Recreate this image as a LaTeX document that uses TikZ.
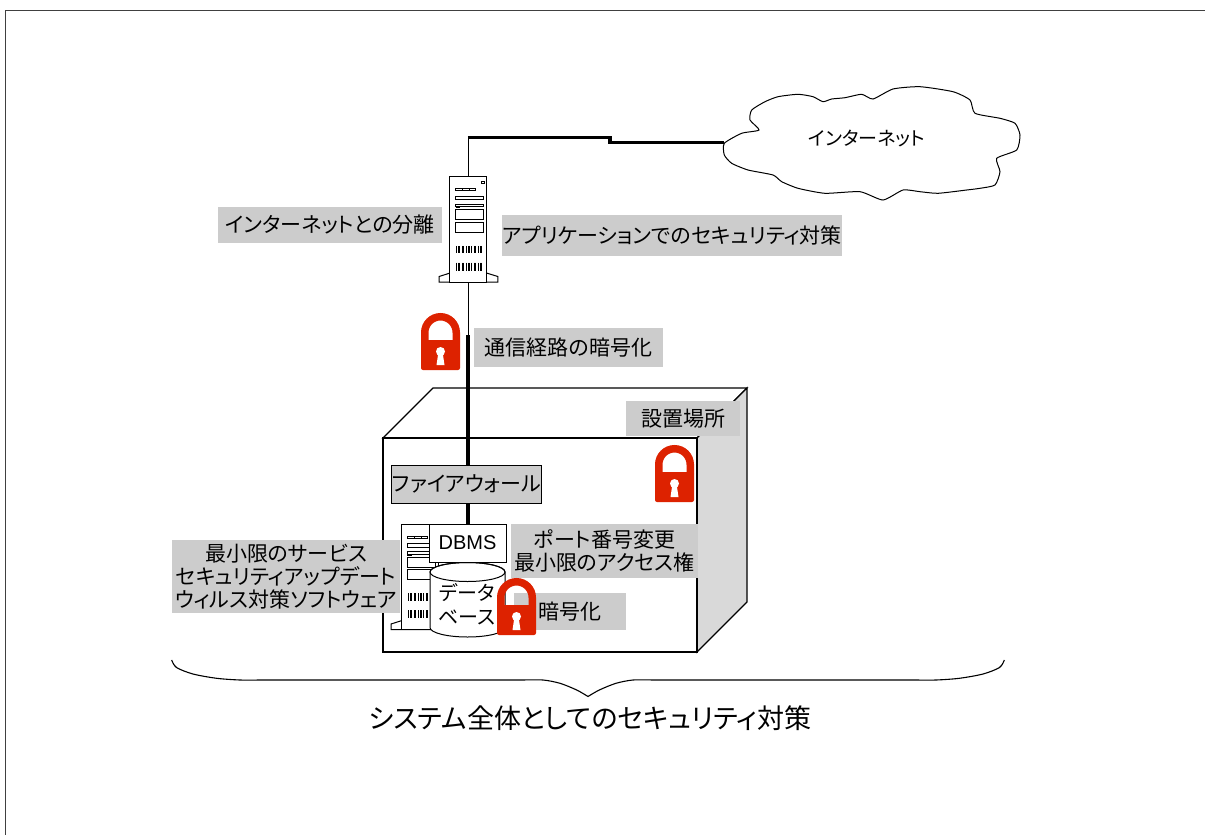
\documentclass[tikz,border=0pt]{standalone}
\usepackage{fontspec}
\setmainfont{Liberation Sans}
\newfontfamily\jp{Noto Sans CJK JP}[RawFeature=+palt]

\definecolor{labelgray}{HTML}{CCCCCC}
\definecolor{sidegray}{HTML}{D9D9D9}
\definecolor{lockred}{HTML}{DD2200}
\definecolor{framegray}{HTML}{404040}

\tikzset{
  lbl/.style={fill=labelgray, inner sep=0, align=center,
    font=\jp\fontsize{21}{23}\selectfont},
  pipe/.style={line width=3.3pt},
  wire/.style={line width=1.4pt},
  lockpic/.pic={
    \draw[lockred, line width=7.5pt] (3.75,29) -- (3.75,19.5)
      arc[start angle=180, end angle=360, radius=15.75] -- (35.25,29);
    \fill[lockred, rounded corners=2pt] (0,27) rectangle (39,57);
    \fill[white] (19.5,38.5) circle (4.5);
    \fill[white] (17.3,40) -- (15.5,52) -- (23.5,52) -- (21.7,40) -- cycle;
  },
  serverpic/.pic={
    \filldraw[fill=white, line width=1pt] (0,96.6) -- (-10.7,100) -- (-10.7,105.6)
      -- (48,105.6) -- (48,100) -- (37,96.6) -- cycle;
    \filldraw[fill=white, line width=1pt] (0,0) rectangle (37,105.6);
    \draw[line width=0.8pt] (31.7,5) rectangle (35,7.3);
    \draw[line width=0.8pt] (6,12) rectangle (25.7,14.3)
      (12.6,12) -- (12.6,14.3) (19.2,12) -- (19.2,14.3);
    \draw[line width=0.8pt] (5.7,19.6) rectangle (33.7,23.3);
    \draw[line width=0.8pt] (5.7,27.6) rectangle (33.7,30) (5.7,31.3) -- (10,31.3);
    \draw[line width=0.8pt] (5.7,33.3) rectangle (33.7,43.3);
    \draw[line width=0.8pt] (5.7,45.6) rectangle (33.7,55.6);
    \foreach \bx in {7,8.5,10,12.5,14,17,18.5,20,21.5,24.5,26,29,30.5,32}{
      \draw[line width=0.7pt] (\bx,69.3) -- (\bx,76.6) (\bx,86) -- (\bx,94);
    }
  }
}

\begin{document}
\begin{tikzpicture}[x=1pt, y=-1pt]
\useasboundingbox (0,0) rectangle (1205,835);

% outer frame
\draw[framegray, line width=1.3pt] (5.5,835) -- (5.5,10.5) -- (1205,10.5);

% the internet cloud
\filldraw[fill=white, line width=1pt] plot[smooth cycle, tension=0.35] coordinates {
  (724.3,143.3) (741.7,133.3) (759,130) (750,120) (751.7,110) (765,101.7)
  (778,96.7) (798,94.3) (813,96.7) (823,101.7) (831.7,99) (845,97.7)
  (861.7,94.3) (873,99) (893,89) (920,86.7) (953,91.7) (970,100)
  (975,113.3) (1000,118.3) (1015,123.3) (1020,135) (1016.7,150)
  (996.7,158.3) (1000,171.7) (995,185) (980,188.3) (966.7,190)
  (938,193.3) (920,191.7) (903,190) (883,200) (860,191.7) (825,193.3)
  (798,188.3) (781.7,181.7) (773,175) (748,170) (731.7,163.3) (724.3,155)};
\node[font=\jp\fontsize{19}{22}\selectfont] (inet) at (867,138) {インターネット};
\coordinate (cloudW) at (724.3,142.5);

% web server
\node[inner sep=0, minimum width=37, minimum height=105.6] (srvA) at (468.5,229.5) {};
\pic at (srvA.north west) {serverpic};

% the building housing the database server
\filldraw[fill=white, line width=1.2pt] (383,438) -- (433,388) -- (747,388) -- (697,438) -- cycle;
\filldraw[fill=sidegray, line width=1.2pt] (697,438) -- (747,388) -- (747,602) -- (697,652) -- cycle;
\filldraw[fill=white, line width=1.2pt] (383,438) rectangle (697,652);

% labels around the web server
\node[lbl, minimum width=224, minimum height=36] (sep) at (330,225) {インターネットとの分離};
\node[lbl, minimum width=332, minimum height=41] (appsec) at (672,235.5) {アプリケーションでのセキュリティ対策};
\node[lbl, minimum width=189, minimum height=39] (enc) at (568.5,347.5) {通信経路の暗号化};
\node[lbl, minimum width=114, minimum height=35] (site) at (683,418.5) {設置場所};

% firewall
\node[lbl, draw=black, line width=1pt, minimum width=150, minimum height=38] (fw) at (466.7,484) {ファイアウォール};

% database server and DBMS
\pic at (401.7,524) {serverpic};
\node[draw, fill=white, line width=1pt, inner sep=0, minimum width=77, minimum height=38,
  font=\fontsize{20}{24}\selectfont] (dbms) at (467.5,543) {DBMS};
\filldraw[fill=white, line width=1pt] (430,572) -- (430,627.5)
  arc[start angle=180, end angle=0, x radius=37.5, y radius=9.5] -- (505,572)
  arc[start angle=0, end angle=-180, x radius=37.5, y radius=9.5] -- cycle;
\draw[line width=1pt] (467.5,572) ellipse [x radius=37.5, y radius=9.5];
\node[font=\jp\fontsize{20}{24}\selectfont, align=center] (db) at (467,604) {データ\\ベース};

% connections
\coordinate (bendA) at (468.5,137.3);
\coordinate (stepA) at (610,137.3);
\coordinate (thinEnd) at (468,335);
\draw[wire] (srvA.north) -- (bendA);
\draw[pipe] ([xshift=-0.7pt]bendA) -- (stepA) |- (cloudW);
\draw[wire] (srvA.south) -- (srvA.south |- thinEnd);
\draw[pipe] (thinEnd) -- (thinEnd |- fw.north);
\draw[pipe] (thinEnd |- fw.south) -- (thinEnd |- dbms.north);

% remaining labels
\node[lbl, minimum width=187, minimum height=54] (port) at (604.5,551) {ポート番号変更\\最小限のアクセス権};
\node[lbl, minimum width=228, minimum height=73] (os) at (286,576.5) {最小限のサービス\\セキュリティアップデート\\ウィルス対策ソフトウェア};
\node[lbl, minimum width=112, minimum height=37] (dbenc) at (570,611.5) {暗号化};

% padlocks
\pic at (421,313) {lockpic};
\pic at (655,445) {lockpic};
\pic at (497,578) {lockpic};

% brace over the whole system
\draw[line width=1.1pt] plot[smooth, tension=0.5] coordinates {(171.7,660) (176.5,667.5) (193,674) (216.7,678.3) (240,680) (260,680)}
  -- plot[smooth, tension=0.5] coordinates {(523,680) (543,680) (560,683.3) (576.7,690) (588,696.5)}
  -- plot[smooth, tension=0.5] coordinates {(588,696.5) (599.3,690) (616,683.3) (633,680) (653,680)}
  -- plot[smooth, tension=0.5] coordinates {(916,680) (936,680) (959.3,678.3) (983,674) (999.5,667.5) (1004.3,660)};
\node[font=\jp\fontsize{27}{30}\selectfont] (cap) at (590,718) {システム全体としてのセキュリティ対策};
\end{tikzpicture}
\end{document}
